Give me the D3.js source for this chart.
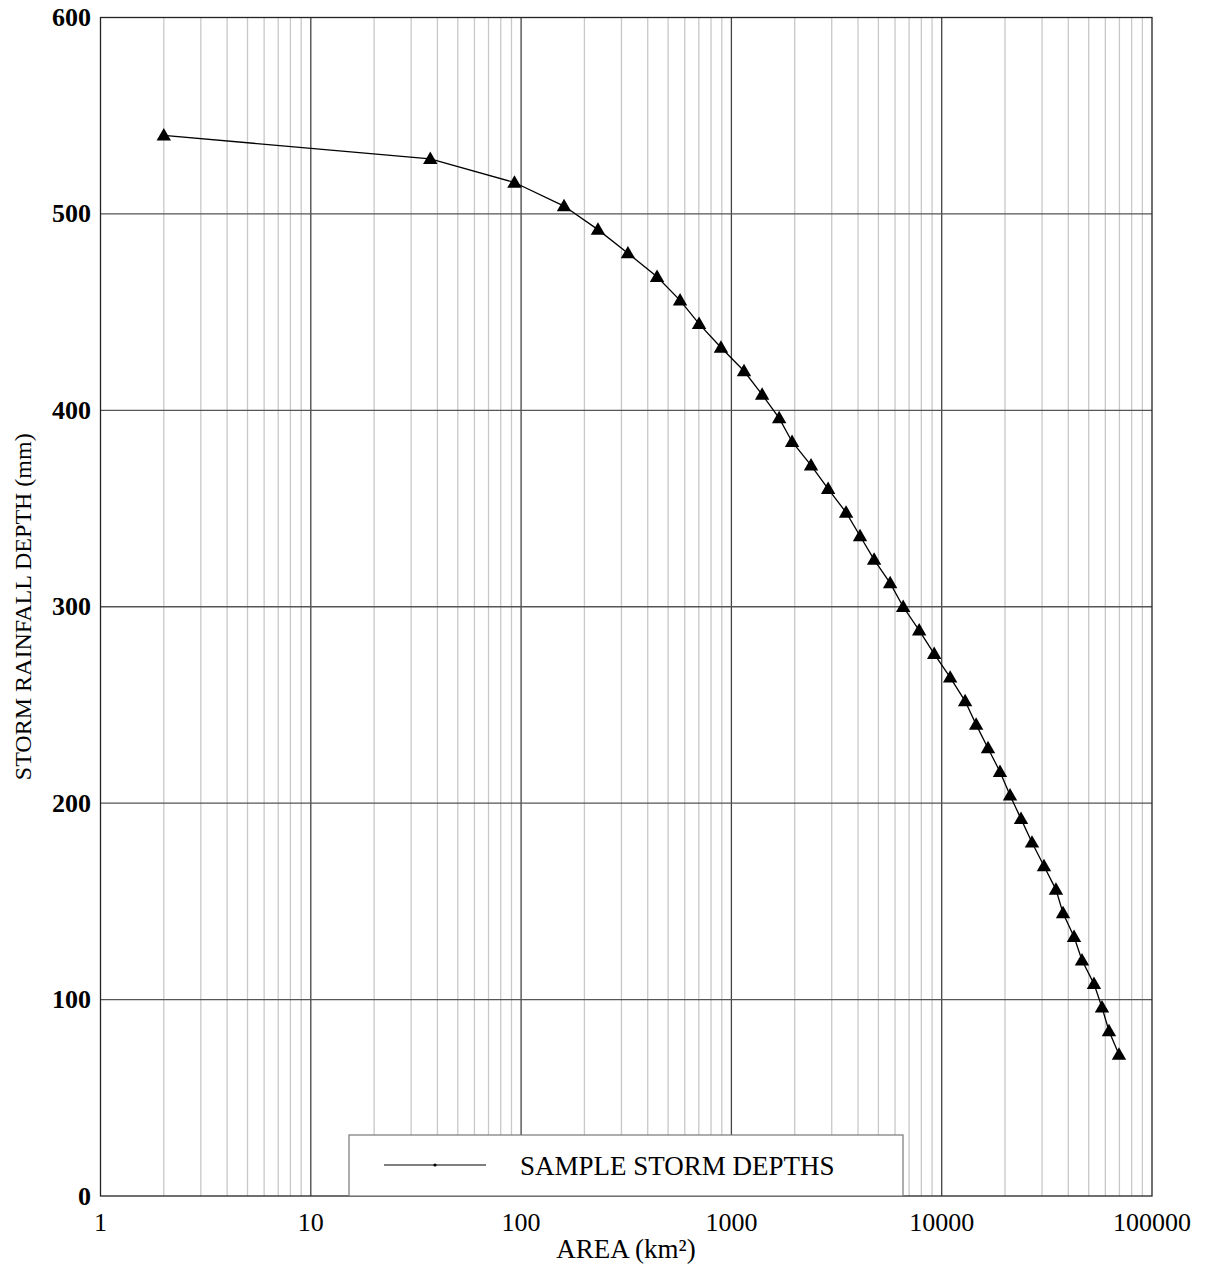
<!DOCTYPE html>
<html>
<head>
<meta charset="utf-8">
<script src="https://cdn.jsdelivr.net/npm/d3@7"></script>
<style>
  body { margin: 0; background: #fff; }
  svg { display: block; font-family: "Liberation Serif", "Times New Roman", serif; }
</style>
</head>
<body>
<svg id="chart" width="1210" height="1270"></svg>
<script>
const areas = [2, 37, 93, 160, 232, 322, 443, 570, 702, 892,
               1148, 1400, 1687, 1943, 2392, 2884, 3510, 4090, 4770, 5686,
               6557, 7815, 9210, 10970, 12920, 14580, 16600, 18930, 21130, 23830,
               26870, 30640, 34940, 37760, 42580, 46460, 52970, 57840, 62420, 69650];
const depths = [540, 528, 516, 504, 492, 480, 468, 456, 444, 432,
                420, 408, 396, 384, 372, 360, 348, 336, 324, 312,
                300, 288, 276, 264, 252, 240, 228, 216, 204, 192,
                180, 168, 156, 144, 132, 120, 108, 96, 84, 72];
const xTicks = [1, 10, 100, 1000, 10000, 100000];
const yTicks = [0, 100, 200, 300, 400, 500, 600];
const seriesName = "SAMPLE STORM DEPTHS";

const svg = d3.select("#chart");
const margin = {left: 100.5, top: 17.5, right: 1152, bottom: 1196};

const x = d3.scaleLog().domain([1, 100000]).range([margin.left, margin.right]);
const y = d3.scaleLinear().domain([0, 600]).range([margin.bottom, margin.top]);

// minor grid (2..9 in each decade)
let minor = [];
for (let d = 1; d < 100000; d *= 10) {
    for (let k = 2; k <= 9; k++) minor.push(d * k);
}
svg.append("g").selectAll("line")
    .data(minor)
    .enter().append("line")
    .attr("x1", d => x(d)).attr("x2", d => x(d))
    .attr("y1", margin.top).attr("y2", margin.bottom)
    .attr("stroke", "#c8c8c8").attr("stroke-width", 1.3);

// major grid
svg.append("g").selectAll("line")
    .data(xTicks.slice(1, -1))
    .enter().append("line")
    .attr("x1", d => x(d)).attr("x2", d => x(d))
    .attr("y1", margin.top).attr("y2", margin.bottom)
    .attr("stroke", "#444").attr("stroke-width", 1.3);
svg.append("g").selectAll("line")
    .data(yTicks.slice(1, -1))
    .enter().append("line")
    .attr("y1", d => y(d)).attr("y2", d => y(d))
    .attr("x1", margin.left).attr("x2", margin.right)
    .attr("stroke", "#555").attr("stroke-width", 1.3);

// frame
svg.append("rect")
    .attr("x", margin.left).attr("y", margin.top)
    .attr("width", margin.right - margin.left)
    .attr("height", margin.bottom - margin.top)
    .attr("fill", "none").attr("stroke", "#222").attr("stroke-width", 1.3);

// axes labels
svg.append("g").selectAll("text")
    .data(yTicks)
    .enter().append("text")
    .attr("x", 91).attr("y", d => y(d))
    .attr("dy", "0.33em")
    .attr("text-anchor", "end")
    .attr("font-size", 26).attr("font-weight", "bold")
    .text(d => d);

svg.append("g").selectAll("text")
    .data(xTicks)
    .enter().append("text")
    .attr("x", d => x(d)).attr("y", 1231)
    .attr("text-anchor", "middle")
    .attr("font-size", 26)
    .text(d => d);

svg.append("text")
    .attr("x", 626).attr("y", 1258)
    .attr("text-anchor", "middle")
    .attr("font-size", 27)
    .text("AREA (km²)");

svg.append("text")
    .attr("transform", "translate(31," + ((margin.top + margin.bottom) / 2) + ") rotate(-90)")
    .attr("text-anchor", "middle")
    .attr("font-size", 24)
    .text("STORM RAINFALL DEPTH (mm)");

// series line and markers
const line = d3.line()
    .x((d, i) => x(areas[i]))
    .y(d => y(d));

svg.append("path")
    .datum(depths)
    .attr("d", line)
    .attr("fill", "none")
    .attr("stroke", "#000").attr("stroke-width", 1.3);

const tri = d3.symbol().type(d3.symbolTriangle).size(90);
svg.append("g").selectAll("path")
    .data(depths)
    .enter().append("path")
    .attr("d", tri)
    .attr("transform", (d, i) => "translate(" + x(areas[i]) + "," + (y(d) + 1) + ")")
    .attr("fill", "#000");

// legend
const lg = svg.append("g");
lg.append("rect")
    .attr("x", 349).attr("y", 1135)
    .attr("width", 554).attr("height", 61)
    .attr("fill", "#fff").attr("stroke", "#777").attr("stroke-width", 1.2);
lg.append("line")
    .attr("x1", 384).attr("x2", 486)
    .attr("y1", 1165).attr("y2", 1165)
    .attr("stroke", "#000").attr("stroke-width", 1.2);
lg.append("circle")
    .attr("cx", 435).attr("cy", 1165).attr("r", 1.6)
    .attr("fill", "#000");
lg.append("text")
    .attr("x", 520).attr("y", 1175)
    .attr("font-size", 27)
    .text(seriesName);
</script>
</body>
</html>
